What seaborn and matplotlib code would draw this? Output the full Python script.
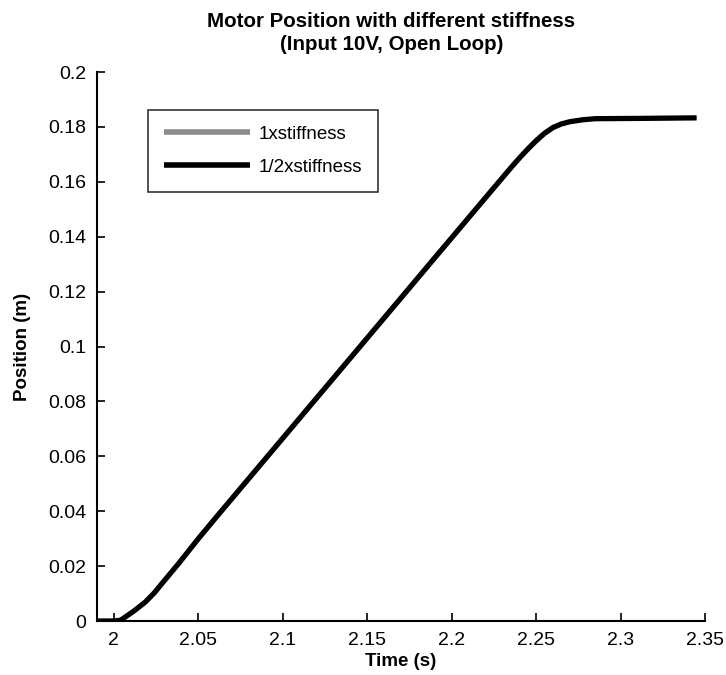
import numpy as np
import pandas as pd
import matplotlib
matplotlib.use("Agg")
import matplotlib.pyplot as plt
import seaborn as sns

# Data
time_full = [1.99, 2.0, 2.004, 2.0085, 2.012, 2.0186, 2.024, 2.0284, 2.033, 2.0384,
             2.0464, 2.05, 2.06, 2.07, 2.09, 2.12, 2.15, 2.186, 2.22, 2.235, 2.24,
             2.245, 2.25, 2.255, 2.26, 2.265, 2.27, 2.2775, 2.285, 2.31, 2.345]
pos_1x = [0.0, 0.0, 0.0003, 0.0021, 0.0036, 0.0069, 0.0102, 0.0134, 0.0168, 0.0208,
          0.0269, 0.0296, 0.0370, 0.0443, 0.0589, 0.0808, 0.1027, 0.1290, 0.1538, 0.1647, 0.1682,
          0.1714, 0.1744, 0.1772, 0.1794, 0.1808, 0.1817, 0.1825, 0.1829, 0.1831, 0.1833]
pos_half = [0.0, 0.0, 0.0003, 0.0022, 0.0037, 0.0069, 0.0103, 0.0136, 0.0170, 0.0210,
            0.0272, 0.0300, 0.0374, 0.0447, 0.0593, 0.0812, 0.1031, 0.1294, 0.1542, 0.1651, 0.1686,
            0.1719, 0.1750, 0.1777, 0.1798, 0.1811, 0.1819, 0.1826, 0.1830, 0.1831, 0.1833]
series_names = ["1xstiffness", "1/2xstiffness"]
series_colors = ["#8c8c8c", "#000000"]

xticks = [2, 2.05, 2.1, 2.15, 2.2, 2.25, 2.3, 2.35]
xtick_labels = ["2", "2.05", "2.1", "2.15", "2.2", "2.25", "2.3", "2.35"]
yticks = [0, 0.02, 0.04, 0.06, 0.08, 0.1, 0.12, 0.14, 0.16, 0.18, 0.2]
ytick_labels = ["0", "0.02", "0.04", "0.06", "0.08", "0.1", "0.12", "0.14", "0.16", "0.18", "0.2"]

df = pd.concat([
    pd.DataFrame({"Time": time_full, "Position": pos_1x, "Series": series_names[0]}),
    pd.DataFrame({"Time": time_full, "Position": pos_half, "Series": series_names[1]}),
])

sns.set_theme(style="ticks")
plt.rcParams["font.family"] = ["Liberation Sans", "DejaVu Sans"]
plt.rcParams["text.color"] = "black"
plt.rcParams["axes.labelcolor"] = "black"
plt.rcParams["xtick.color"] = "black"
plt.rcParams["ytick.color"] = "black"
plt.rcParams["xtick.direction"] = "in"
plt.rcParams["ytick.direction"] = "in"

fig = plt.figure(figsize=(7.26, 6.75), dpi=100)
ax = fig.add_axes([0.1336, 0.08, 0.8375, 0.8133])

sns.lineplot(data=df, x="Time", y="Position", hue="Series",
             palette=dict(zip(series_names, series_colors)),
             size="Series", sizes={series_names[0]: 2.4, series_names[1]: 3.8},
             ax=ax, legend=True, sort=False)
for ln in ax.get_lines():
    ln.set_solid_joinstyle("round")
    ln.set_solid_capstyle("butt")

ax.set_xlim(1.99, 2.35)
ax.set_ylim(0, 0.2)
ax.set_xticks(xticks)
ax.set_xticklabels(xtick_labels, fontsize=14)
ax.set_yticks(yticks)
ax.set_yticklabels(ytick_labels, fontsize=14)
ax.tick_params(axis="both", direction="in", length=6, width=1.2, colors="black", pad=8)

for s in ["top", "right"]:
    ax.spines[s].set_visible(False)
for s in ["left", "bottom"]:
    ax.spines[s].set_linewidth(1.5)
    ax.spines[s].set_color("black")

ax.set_xlabel("Time (s)", fontsize=13.5, fontweight="bold", labelpad=3, color="black")
ax.set_ylabel("Position (m)", fontsize=13.5, fontweight="bold", labelpad=12, color="black")
ax.set_title("Motor Position with different stiffness\n(Input 10V, Open Loop)",
             fontsize=14.8, fontweight="bold", pad=16, linespacing=1.25, x=0.484,
             color="black")

leg = ax.legend(loc="upper left", bbox_to_anchor=(0.084, 0.931), fontsize=13.5,
                frameon=True, fancybox=False, handlelength=4.6, borderpad=0.85,
                labelspacing=0.85, handletextpad=0.45, borderaxespad=0)
leg.get_frame().set_edgecolor("black")
leg.get_frame().set_linewidth(1.2)
for line in leg.get_lines():
    line.set_linewidth(4)
for txt in leg.get_texts():
    txt.set_color("black")

fig.savefig("out.png", dpi=100)
